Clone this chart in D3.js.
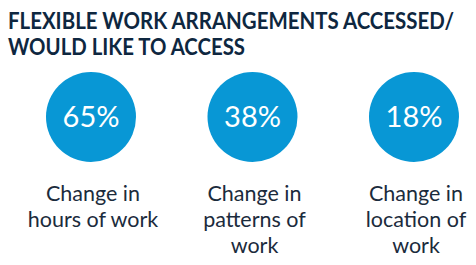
<!DOCTYPE html>
<html>
<head>
<meta charset="utf-8">
<script src="https://cdnjs.cloudflare.com/ajax/libs/d3/7.8.5/d3.min.js"></script>
<style>
  html, body { margin: 0; padding: 0; background: #fff; }
  svg { display: block; }
</style>
</head>
<body>
<div id="chart"></div>
<script>
const titleLines = ['FLEXIBLE WORK ARRANGEMENTS ACCESSED/', 'WOULD LIKE TO ACCESS'];
const categories = ['hours', 'patterns', 'location'];
const values = [65, 38, 18];
const labelLines = [
  ['Change in', 'hours of work'],
  ['Change in', 'patterns of', 'work'],
  ['Change in', 'location of', 'work']
];

const W = 476, H = 265;
const font = 'Lato, "Open Sans", sans-serif';

const svg = d3.select('#chart').append('svg')
  .attr('width', W)
  .attr('height', H);

// Title: narrower font size, stretched a little taller to look like the heavy original
svg.append('g').selectAll('text')
  .data(titleLines)
  .join('text')
  .attr('transform', (d, i) => `translate(8,${29 + i * 26}) scale(1,1.08)`)
  .attr('font-family', font)
  .attr('font-weight', 'bold')
  .attr('font-size', 20.5)
  .attr('fill', '#0e2740')
  .attr('textLength', (d, i) => i === 0 ? 446 : 237)
  .attr('lengthAdjust', 'spacingAndGlyphs')
  .text(d => d);

const x = d3.scalePoint()
  .domain(categories)
  .range([91, 414]);

const r = 45;
const cy = 117;

const items = svg.append('g').selectAll('g.item')
  .data(categories.map((c, i) => ({ key: c, value: values[i], lines: labelLines[i] })))
  .join('g')
  .attr('class', 'item')
  .attr('transform', d => `translate(${x(d.key)},0)`);

items.append('circle')
  .attr('cy', cy)
  .attr('r', r)
  .attr('fill', '#0897d5');

items.append('text')
  .attr('y', cy + 10)
  .attr('text-anchor', 'middle')
  .attr('font-family', font)
  .attr('font-size', 29)
  .attr('fill', '#fff')
  .text(d => d.value + '%');

items.append('g').selectAll('text')
  .data(d => d.lines)
  .join('text')
  .attr('x', 2)
  .attr('y', (d, i) => 201 + i * 26)
  .attr('text-anchor', 'middle')
  .attr('font-family', font)
  .attr('font-size', 21.5)
  .attr('fill', '#1b2b3c')
  .text(d => d);
</script>
</body>
</html>
